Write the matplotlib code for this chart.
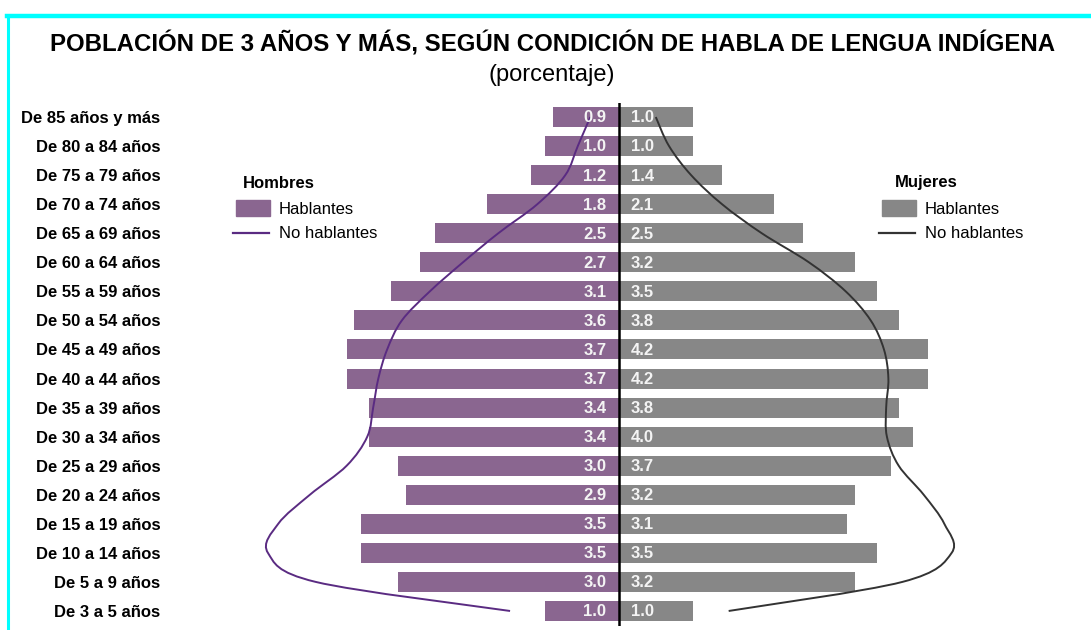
import numpy as np
import matplotlib
matplotlib.use('Agg')
import matplotlib.pyplot as plt
from matplotlib.path import Path
from matplotlib.patches import PathPatch, Rectangle
from matplotlib.lines import Line2D

plt.rcParams['font.family'] = ['Liberation Sans', 'DejaVu Sans']

# data (top to bottom)
grupos = ['De 85 años y más', 'De 80 a 84 años', 'De 75 a 79 años', 'De 70 a 74 años',
          'De 65 a 69 años', 'De 60 a 64 años', 'De 55 a 59 años', 'De 50 a 54 años',
          'De 45 a 49 años', 'De 40 a 44 años', 'De 35 a 39 años', 'De 30 a 34 años',
          'De 25 a 29 años', 'De 20 a 24 años', 'De 15 a 19 años', 'De 10 a 14 años',
          'De 5 a 9 años', 'De 3 a 5 años']
hombres_hab = [0.9, 1.0, 1.2, 1.8, 2.5, 2.7, 3.1, 3.6, 3.7, 3.7, 3.4, 3.4, 3.0, 2.9, 3.5, 3.5, 3.0, 1.0]
mujeres_hab = [1.0, 1.0, 1.4, 2.1, 2.5, 3.2, 3.5, 3.8, 4.2, 4.2, 3.8, 4.0, 3.7, 3.2, 3.1, 3.5, 3.2, 1.0]
# no hablantes
hombres_no = [0.39, 0.56, 0.73, 1.11, 1.64, 2.12, 2.57, 2.95, 3.15, 3.27, 3.34, 3.42, 3.70, 4.20, 4.63, 4.77, 4.12, 1.48]
mujeres_no = [0.50, 0.68, 0.98, 1.40, 1.94, 2.58, 3.08, 3.42, 3.60, 3.66, 3.63, 3.64, 3.80, 4.14, 4.42, 4.52, 3.85, 1.49]

c_hom = '#8a6690'
c_muj = '#878787'
c_hom_line = '#5a2b82'
c_muj_line = '#333333'


def smooth_path(xs, ys, t=1.0 / 6):
    # catmull-rom style bezier through the points
    pts = np.column_stack([xs, ys])
    verts = [pts[0]]
    codes = [Path.MOVETO]
    n = len(pts)
    for i in range(n - 1):
        p0 = pts[max(i - 1, 0)]
        p1 = pts[i]
        p2 = pts[i + 1]
        p3 = pts[min(i + 2, n - 1)]
        c1 = p1 + (p2 - p0) * t
        c2 = p2 - (p3 - p1) * t
        verts += [c1, c2, p2]
        codes += [Path.CURVE4] * 3
    return Path(verts, codes)


fig = plt.figure(figsize=(10.91, 6.3), dpi=100)
W, H = 1091, 630

ax_l, ax_r = 170, 1068
ax_t, ax_b = 102.5, 625.5
ax = fig.add_axes([ax_l / W, 1 - ax_b / H, (ax_r - ax_l) / W, (ax_b - ax_t) / H])

y = np.arange(len(grupos))
ax.barh(y, [-v for v in hombres_hab], height=0.69, color=c_hom)
ax.barh(y, mujeres_hab, height=0.69, color=c_muj)

for yi, v in zip(y, hombres_hab):
    ax.text(-0.17, yi + 0.03, f'{v:.1f}', ha='right', va='center', color='#f4f4f4',
            fontsize=12, fontweight='bold')
for yi, v in zip(y, mujeres_hab):
    ax.text(0.16, yi + 0.03, f'{v:.1f}', ha='left', va='center', color='#f4f4f4',
            fontsize=12, fontweight='bold')

ax.add_patch(PathPatch(smooth_path([-v for v in hombres_no], y), fill=False,
                       edgecolor=c_hom_line, lw=1.4))
ax.add_patch(PathPatch(smooth_path(mujeres_no, y), fill=False,
                       edgecolor=c_muj_line, lw=1.4))

ax.axvline(0, color='black', lw=1.8)

half = (ax_r - ax_l) / 2 / 73.6
ax.set_xlim(-half, half)
ax.set_ylim(len(grupos) - 0.5, -0.5)
ax.set_yticks(y)
ax.set_yticklabels(grupos, fontsize=12, fontweight='bold')
ax.tick_params(axis='y', length=0, pad=7)
ax.set_xticks([])
for s in ax.spines.values():
    s.set_visible(False)

# title
fig.text(553 / W, 1 - 44 / H, 'POBLACIÓN DE 3 AÑOS Y MÁS, SEGÚN CONDICIÓN DE HABLA DE LENGUA INDÍGENA',
         ha='center', va='center', fontsize=17.3, fontweight='bold')
fig.text(552 / W, 1 - 75 / H, '(porcentaje)', ha='center', va='center', fontsize=17)


# legends drawn by hand
def legend(x_title, y_title, x_patch, titulo, color, lcolor):
    fig.text(x_title / W, 1 - y_title / H, titulo, ha='left', va='center',
             fontsize=12, fontweight='bold')
    fig.add_artist(Rectangle((x_patch / W, 1 - 216 / H), 34 / W, 16 / H,
                             transform=fig.transFigure, color=color))
    fig.add_artist(Line2D([(x_patch - 3) / W, (x_patch + 33) / W], [1 - 233 / H] * 2,
                          transform=fig.transFigure, color=lcolor, lw=1.6))
    fig.text((x_patch + 43) / W, 1 - 210 / H, 'Hablantes', ha='left', va='center', fontsize=12)
    fig.text((x_patch + 43) / W, 1 - 233 / H, 'No hablantes', ha='left', va='center', fontsize=12)


legend(243, 183, 236, 'Hombres', c_hom, c_hom_line)
legend(895, 182, 882, 'Mujeres', c_muj, c_muj_line)

# cyan frame
fig.add_artist(Line2D([7 / W, 1], [1 - 15.5 / H] * 2, transform=fig.transFigure,
                      color='#00ffff', lw=3.2))
fig.add_artist(Line2D([8 / W] * 2, [0, 1 - 15.5 / H], transform=fig.transFigure,
                      color='#00ffff', lw=2.2))

fig.savefig('out.png', dpi=100)
